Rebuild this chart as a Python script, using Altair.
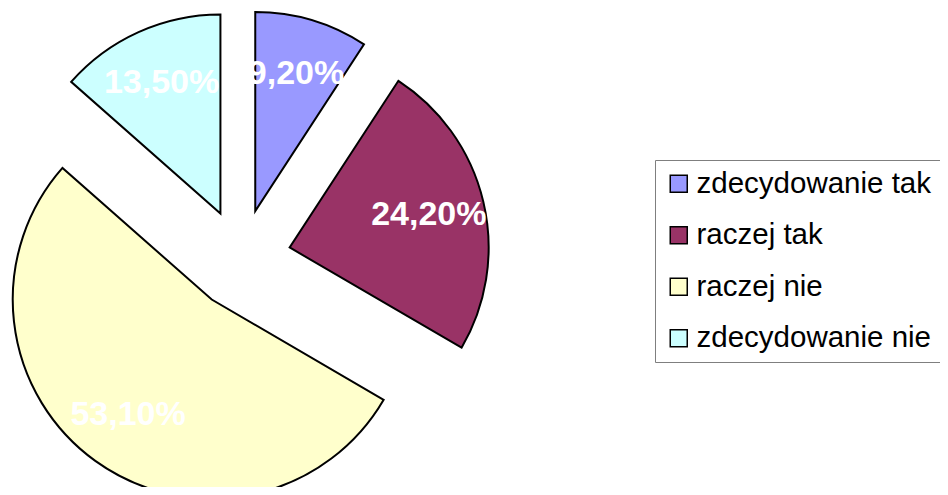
import altair as alt
import pandas as pd

categories = ["zdecydowanie tak", "raczej tak", "raczej nie", "zdecydowanie nie"]
values = [9.2, 24.2, 53.1, 13.5]
colors = ["#9999FF", "#993366", "#FFFFCC", "#CCFFFF"]

df = pd.DataFrame({"idx": list(range(len(categories))), "category": categories, "value": values})

CX, CY = 233, 251      # pie centre (px, plot area)
EXPLODE = 50           # explode distance
R = 199                # pie radius
LR = 143               # label distance from slice centre

base = alt.Chart(df).transform_window(
    cum="sum(value)", sort=[alt.SortField("idx")], frame=[None, 0]
).transform_joinaggregate(
    total="sum(value)"
).transform_calculate(
    a1="2*PI*datum.cum/datum.total",
    a0="2*PI*(datum.cum-datum.value)/datum.total",
).transform_calculate(
    mid="(datum.a0+datum.a1)/2"
).transform_calculate(
    cx=f"{CX}+{EXPLODE}*sin(datum.mid)",
    cy=f"{CY}-{EXPLODE}*cos(datum.mid)",
).transform_calculate(
    lx=f"datum.cx+{LR}*sin(datum.mid)",
    ly=f"datum.cy-{LR}*cos(datum.mid)",
    label="replace(format(datum.value,'.2f'),'.',',')+'%'",
)

arcs = base.mark_arc(outerRadius=R, stroke="black", strokeWidth=2, opacity=1).encode(
    x=alt.X("cx:Q", scale=None, axis=None),
    y=alt.Y("cy:Q", scale=None, axis=None),
    theta=alt.Theta("a0:Q", scale=None),
    theta2="a1:Q",
    color=alt.Color(
        "category:N",
        scale=alt.Scale(domain=categories, range=colors),
        legend=alt.Legend(
            title=None,
            orient="none",
            legendX=647,
            legendY=152,
            padding=9,
            strokeColor="#7f7f7f",
            fillColor="white",
            symbolType="square",
            symbolSize=289,
            symbolStrokeColor="black",
            symbolStrokeWidth=1.5,
            symbolOpacity=1,
            labelFont="Liberation Sans",
            labelFontSize=29.5,
            labelColor="black",
            labelOffset=3,
            rowPadding=20.5,
            labelLimit=400,
        ),
    ),
)

labels = base.mark_text(
    font="Liberation Sans", fontSize=34, fontWeight="bold", color="white",
    align="center", baseline="middle",
).encode(
    x=alt.X("lx:Q", scale=None, axis=None),
    y=alt.Y("ly:Q", scale=None, axis=None),
    text="label:N",
)

chart = alt.layer(arcs, labels).properties(
    width=932, height=479, autosize="none", padding=0
).configure_view(stroke=None)

chart.save("out.html", embed_options={"renderer": "svg", "actions": False})
